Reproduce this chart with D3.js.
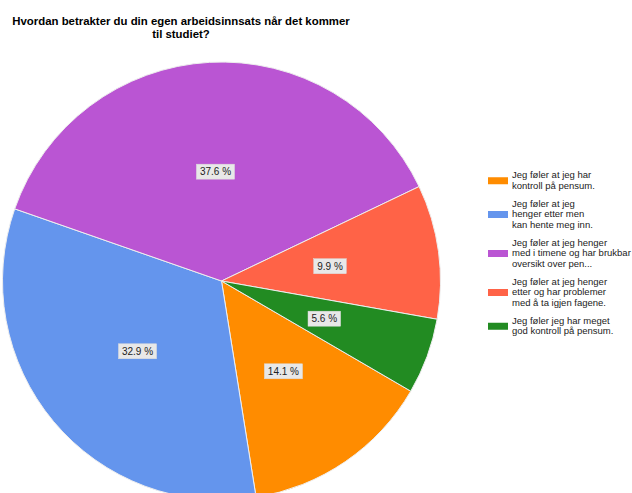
<!DOCTYPE html>
<html>
<head>
<meta charset="utf-8">
<script src="https://cdn.jsdelivr.net/npm/d3@7"></script>
<style>
  html, body { margin: 0; padding: 0; background: #fff; }
  svg { display: block; font-family: Arial, "Liberation Sans", sans-serif; }
</style>
</head>
<body>
<svg id="chart" width="632" height="493"></svg>
<script>
const titleLines = ["Hvordan betrakter du din egen arbeidsinnsats når det kommer", "til studiet?"];
const categories = [
  ["Jeg føler at jeg har", "kontroll på pensum."],
  ["Jeg føler at jeg", "henger etter men", "kan hente meg inn."],
  ["Jeg føler at jeg henger", "med i timene og har brukbar", "oversikt over pen..."],
  ["Jeg føler at jeg henger", "etter og har problemer", "med å ta igjen fagene."],
  ["Jeg føler jeg har meget", "god kontroll på pensum."]
];
const values = [14.1, 32.9, 37.6, 9.9, 5.6];
const colors = ["#ff8c00", "#6495ed", "#ba55d3", "#ff6347", "#228b22"];

const svg = d3.select("#chart");
svg.append("rect").attr("width", 632).attr("height", 493).attr("fill", "#fff");

// Title
const title = svg.append("text")
  .attr("text-anchor", "middle")
  .attr("font-size", 11.4)
  .attr("font-weight", "bold")
  .attr("fill", "#000");
titleLines.forEach((t, i) => {
  title.append("tspan").attr("x", 181).attr("y", 25 + i * 12.5).text(t);
});

// Pie
const cx = 221.5, cy = 281, r = 219;
const a0 = 120.2 * Math.PI / 180;
const pie = d3.pie().sort(null).value(d => d).startAngle(a0).endAngle(a0 + 2 * Math.PI);
const arcs = pie(values);
const arc = d3.arc().innerRadius(0).outerRadius(r);
const labelArc = d3.arc().innerRadius(r * 0.5).outerRadius(r * 0.5);

const g = svg.append("g").attr("transform", `translate(${cx},${cy})`);
g.selectAll("path.slice").data(arcs).enter().append("path")
  .attr("class", "slice")
  .attr("d", arc)
  .attr("fill", (d, i) => colors[i])
  .attr("stroke", "#eeeeee")
  .attr("stroke-width", 1);

const fmt = d3.format(".1f");
const lbl = g.selectAll("g.lbl").data(arcs).enter().append("g").attr("class", "lbl")
  .attr("transform", d => { const c = labelArc.centroid(d); return `translate(${c[0]},${c[1]})`; });
lbl.each(function(d) {
  const sel = d3.select(this);
  const t = sel.append("text")
    .attr("text-anchor", "middle")
    .attr("y", 3.5)
    .attr("font-size", 10)
    .attr("fill", "#222")
    .text(fmt(d.data) + " %");
  const w = t.node().getComputedTextLength();
  sel.insert("rect", "text")
    .attr("x", -w / 2 - 3.5).attr("y", -7.5)
    .attr("width", w + 7).attr("height", 15)
    .attr("fill", "#e8e8e8")
    .attr("stroke", "#dcdcdc")
    .attr("stroke-width", 0.5);
});

// Legend
const lineH = 10.5, itemGap = 18;
let base = 178;
const legend = svg.append("g");
categories.forEach((lines, i) => {
  const first = base, last = base + (lines.length - 1) * lineH;
  legend.append("rect")
    .attr("x", 488).attr("y", (first + last) / 2 - 6)
    .attr("width", 20).attr("height", 7)
    .attr("fill", colors[i]);
  const t = legend.append("text").attr("font-size", 9.5).attr("fill", "#222");
  lines.forEach((s, j) => {
    t.append("tspan").attr("x", 512).attr("y", first + j * lineH).text(s);
  });
  base = last + itemGap;
});
</script>
</body>
</html>
